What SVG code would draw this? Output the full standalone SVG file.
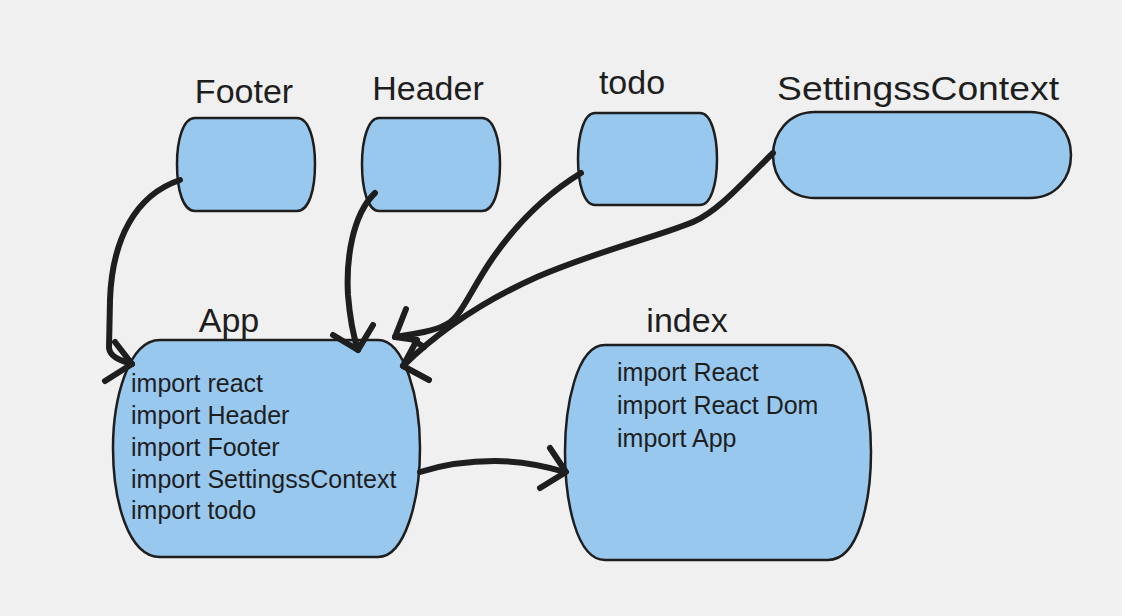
<svg xmlns="http://www.w3.org/2000/svg" width="1122" height="616" viewBox="0 0 1122 616">
<style>
.node{fill:#98c8ee;stroke:#1e1e1e;stroke-width:2.5;stroke-linejoin:round}
.title{font-family:"Liberation Sans",Arial,sans-serif;font-size:34px;fill:#1e1e1e;text-anchor:middle}
.body{font-family:"Liberation Sans",Arial,sans-serif;font-size:25px;fill:#1e1e1e}
.edge{fill:none;stroke:#1e1e1e;stroke-width:6;stroke-linecap:round;stroke-linejoin:round}
</style>
<rect x="0" y="0" width="1122" height="616" fill="#f0f0f0"/>
<g id="Footer">
<path class="node" d="M195,118 L297,118 C309,118 315,140 315,164 C315,190 309,211 297,211 L195,211 C183,211 177,190 177,164 C177,140 183,118 195,118 Z"/>
<text class="title" x="244" y="103">Footer</text>
</g>
<g id="Header">
<path class="node" d="M379,118 L482,118 C494,118 500,140 500,164 C500,190 494,211 482,211 L379,211 C368,211 362,190 362,164 C362,140 368,118 379,118 Z"/>
<text class="title" x="428" y="100">Header</text>
</g>
<g id="todo">
<path class="node" d="M595,113 L700,113 C711,113 717,135 717,159 C717,184 711,205 700,205 L595,205 C584,205 578,184 578,159 C578,135 584,113 595,113 Z"/>
<text class="title" x="632" y="94">todo</text>
</g>
<g id="SettingssContext">
<path class="node" d="M815,112 L1030,112 C1057,112 1071,134 1071,155 C1071,177 1057,198 1030,198 L815,198 C788,198 773,177 773,155 C773,134 788,112 815,112 Z"/>
<text class="title" x="918" y="100" textLength="282" lengthAdjust="spacingAndGlyphs">SettingssContext</text>
</g>
<g id="App">
<path class="node" d="M160,340 L378,340 C405,340 420,400 420,448 C420,500 405,557 378,557 L160,557 C128,557 113,500 113,448 C113,400 128,340 160,340 Z"/>
<text class="title" x="229" y="332">App</text>
<text class="body" x="131" y="392">import react</text>
<text class="body" x="131" y="424">import Header</text>
<text class="body" x="131" y="456">import Footer</text>
<text class="body" x="131" y="488">import SettingssContext</text>
<text class="body" x="131" y="519">import todo</text>
</g>
<g id="index">
<path class="node" d="M605,345 L828,345 C859,345 871,408 871,452 C871,500 859,560 828,560 L605,560 C576,560 565,500 565,452 C565,408 576,345 605,345 Z"/>
<text class="title" x="687" y="332">index</text>
<text class="body" x="617" y="381">import React</text>
<text class="body" x="617" y="414">import React Dom</text>
<text class="body" x="617" y="447">import App</text>
</g>
<g id="connectors">
<path class="edge" d="M180,180 C135,195 112,240 110,300 L109,348 C110,356 118,360 132,364"/>
<path class="edge" d="M115,342 L132,364 L105,381"/>
<path class="edge" d="M375,193 C352,215 346,260 348,295 C350,320 354,338 358,350"/>
<path class="edge" d="M333,335 L358,350 L373,325"/>
<path class="edge" d="M581,173 C545,195 515,225 490,262 C470,292 460,318 447,324 C435,331 415,334 395,337"/>
<path class="edge" d="M406,309 L395,337 L416,340 M413,340 L424,347"/>
<path class="edge" d="M773,153 C745,180 720,210 693,222 C660,236 600,250 537,277 C490,298 445,325 403,366"/>
<path class="edge" d="M417,340 L403,366 L429,380"/>
<path class="edge" d="M420,472 C445,464 470,461 495,461 C520,461 545,466 565,472"/>
<path class="edge" d="M550,448 L566,472 L540,488"/>
</g>
</svg>
